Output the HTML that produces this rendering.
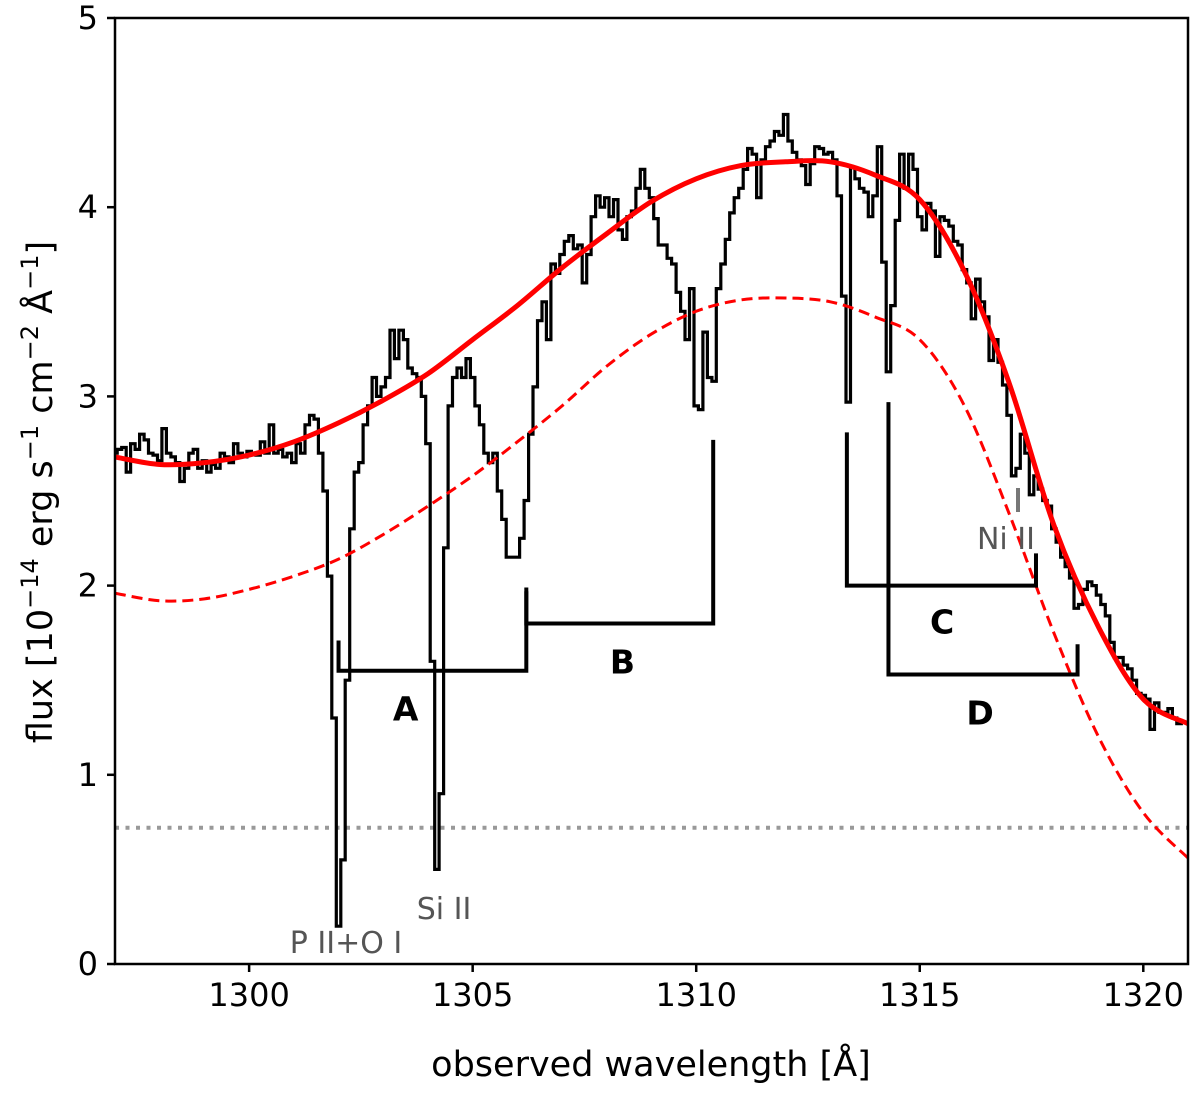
<!DOCTYPE html>
<html><head><meta charset="utf-8">
<style>
html,body{margin:0;padding:0;background:#fff;}
svg{display:block;font-family:"DejaVu Sans","Liberation Sans",sans-serif;}
</style></head>
<body>
<svg id="chart" width="1200" height="1093" viewBox="0 0 1200 1093" xmlns="http://www.w3.org/2000/svg">
  <rect x="0" y="0" width="1200" height="1093" fill="#fff"/>
  <defs><clipPath id="pc"><rect x="115" y="18" width="1073" height="946"/></clipPath></defs>
  <g id="plot" clip-path="url(#pc)"></g>
  <g id="annot"></g>
  <rect x="115" y="18" width="1073" height="946" fill="none" stroke="#000" stroke-width="2.5"/>
  <g id="axes"></g>
  <text x="651" y="1076" text-anchor="middle" font-size="35">observed wavelength [Å]</text>
  <text transform="translate(52,492) rotate(-90)" text-anchor="middle" font-size="35">flux [10<tspan font-size="24" dy="-14">−14</tspan><tspan dy="14"> erg s</tspan><tspan font-size="24" dy="-14">−1</tspan><tspan dy="14"> cm</tspan><tspan font-size="24" dy="-14">−2</tspan><tspan dy="14"> Å</tspan><tspan font-size="24" dy="-14">−1</tspan><tspan dy="14">]</tspan></text>
</svg>
<script>
const wlStart = 1297.0, wlStep = 0.1;
const flux = [
2.7,2.72,2.73,2.6,2.75,2.72,2.8,2.77,2.7,2.69,
2.66,2.83,2.7,2.68,2.65,2.55,2.62,2.7,2.72,2.62,
2.66,2.6,2.64,2.62,2.7,2.68,2.65,2.75,2.7,2.68,
2.71,2.7,2.69,2.76,2.7,2.85,2.7,2.72,2.68,2.7,
2.65,2.75,2.7,2.85,2.9,2.88,2.7,2.5,2.05,1.3,
0.2,0.55,1.5,2.3,2.6,2.65,2.85,2.95,3.1,3.0,
3.05,3.1,3.35,3.2,3.35,3.3,3.15,3.12,3.1,3.0,
2.75,1.6,0.5,0.9,2.2,2.95,3.1,3.15,3.1,3.2,
3.1,2.95,2.85,2.7,2.65,2.7,2.5,2.35,2.15,2.15,
2.15,2.25,2.45,2.8,3.05,3.4,3.5,3.3,3.7,3.65,
3.75,3.82,3.85,3.78,3.8,3.6,3.75,3.95,4.06,4.0,
4.05,3.95,4.04,3.88,3.83,3.95,3.98,4.1,4.2,4.1,
4.05,3.94,3.8,3.8,3.73,3.7,3.55,3.45,3.3,3.57,
2.95,2.93,3.34,3.1,3.08,3.57,3.7,3.83,3.97,4.05,
4.1,4.2,4.31,4.28,4.05,4.25,4.32,4.35,4.4,4.38,
4.49,4.35,4.29,4.25,4.22,4.12,4.23,4.32,4.31,4.28,
4.29,4.25,4.06,3.53,2.97,4.21,4.15,4.1,4.08,3.95,
4.06,4.32,3.71,3.13,3.48,3.93,4.28,4.1,4.28,4.2,
3.95,3.88,4.02,3.98,3.74,3.95,3.93,3.9,3.82,3.8,
3.67,3.6,3.41,3.62,3.5,3.42,3.19,3.3,3.18,3.06,
2.9,2.58,2.62,2.8,2.7,2.48,2.58,2.51,2.45,2.42,
2.3,2.23,2.15,2.1,2.04,1.88,1.9,1.98,2.02,2.0,
1.95,1.9,1.84,1.7,1.62,1.62,1.58,1.56,1.5,1.43,
1.42,1.4,1.24,1.38,1.33,1.33,1.35,1.3,1.27,1.28];
const modelWl = [1297,1298,1299,1300,1301,1302,1303,1304,1305,1306,1307,1308,1309,1310,1311,1312,1313,1314,1315,1316,1317,1318,1319,1320,1321];
const modelTotal = [2.68,2.64,2.65,2.69,2.76,2.86,2.98,3.12,3.3,3.48,3.68,3.86,4.03,4.15,4.22,4.24,4.24,4.17,4.04,3.66,3.07,2.32,1.78,1.4,1.27];
const modelComp = [1.96,1.92,1.93,1.98,2.05,2.14,2.27,2.42,2.58,2.76,2.95,3.16,3.33,3.45,3.51,3.52,3.5,3.42,3.3,2.95,2.38,1.75,1.2,0.8,0.56];
const noiseLevel = 0.72;
const xTicks = [1300,1305,1310,1315,1320];
const yTicks = [0,1,2,3,4,5];
const brackets = [
  {label:'A', w1:1302.0, w2:1306.2, y:1.55, t1:1.71, t2:1.99, lw:1303.5, ly:1.35},
  {label:'B', w1:1306.2, w2:1310.38, y:1.8, t1:1.97, t2:2.77, lw:1308.35, ly:1.6},
  {label:'C', w1:1313.37, w2:1317.6, y:2.0, t1:2.81, t2:2.17, lw:1315.5, ly:1.81},
  {label:'D', w1:1314.3, w2:1318.53, y:1.53, t1:2.97, t2:1.69, lw:1316.35, ly:1.33}
];
const X0=1297, X1=1321, Y0=0, Y1=5;
function sx(w){return 115+(w-X0)/(X1-X0)*1073;}
function sy(f){return 964-(f-Y0)/(Y1-Y0)*946;}
const NS='http://www.w3.org/2000/svg';
function mk(tag,attrs,parent){const e=document.createElementNS(NS,tag);for(const k in attrs)e.setAttribute(k,attrs[k]);parent.appendChild(e);return e;}
const plot=document.getElementById('plot'), annot=document.getElementById('annot'), axes=document.getElementById('axes');

let nl=mk('line',{x1:sx(X0),x2:sx(X1),y1:sy(noiseLevel),y2:sy(noiseLevel),stroke:'#999','stroke-width':4,'stroke-dasharray':'4,6.5'},plot);



let d='';
flux.forEach((f,i)=>{const w=wlStart+i*wlStep;const a=sx(w-wlStep/2),b=sx(w+wlStep/2),y=sy(f);d+=(i===0?'M':'L')+a.toFixed(1)+','+y.toFixed(1)+'L'+b.toFixed(1)+','+y.toFixed(1);});
let sp=mk('path',{d:d,fill:'none',stroke:'#000','stroke-width':3.2,'stroke-linejoin':'miter'},plot);



function smooth(xs,ys){const p=xs.map((x,i)=>[sx(x),sy(ys[i])]);let s='M'+p[0][0]+','+p[0][1];for(let i=0;i<p.length-1;i++){const p0=p[Math.max(0,i-1)],p1=p[i],p2=p[i+1],p3=p[Math.min(p.length-1,i+2)];const c1=[p1[0]+(p2[0]-p0[0])/6,p1[1]+(p2[1]-p0[1])/6],c2=[p2[0]-(p3[0]-p1[0])/6,p2[1]-(p3[1]-p1[1])/6];s+='C'+c1.join(',')+' '+c2.join(',')+' '+p2.join(',');}return s;}
let dc=mk('path',{d:smooth(modelWl,modelComp),fill:'none',stroke:'#f00','stroke-width':3,'stroke-dasharray':'11,6'},plot);


let tc=mk('path',{d:smooth(modelWl,modelTotal),fill:'none',stroke:'#f00','stroke-width':5},plot);



brackets.forEach(b=>{
  let p=mk('path',{d:`M${sx(b.w1)},${sy(b.t1)}L${sx(b.w1)},${sy(b.y)}L${sx(b.w2)},${sy(b.y)}L${sx(b.w2)},${sy(b.t2)}`,fill:'none',stroke:'#000','stroke-width':4},annot);
  
  
  let t=mk('text',{x:sx(b.lw),y:sy(b.ly)+12,'text-anchor':'middle','font-size':33,'font-weight':'bold'},annot);
  t.textContent=b.label;
  
  
});
let ni=mk('line',{x1:1018,x2:1018,y1:488,y2:512,stroke:'#777','stroke-width':4},annot);


[['Ni II',1006,549,'ni-ii-label'],['Si II',444,919,'si-ii-label'],['P II+O I',346,953,'p-ii-o-i-label']].forEach(a=>{
  let t=mk('text',{x:a[1],y:a[2],'text-anchor':'middle','font-size':30,fill:'#555'},annot);
  t.textContent=a[0];
  
  
});

xTicks.forEach(v=>{
  let l=mk('line',{x1:sx(v),x2:sx(v),y1:964,y2:972,stroke:'#000','stroke-width':2.5},axes);
  
  
  let t=mk('text',{x:sx(v),y:1006,'text-anchor':'middle','font-size':32},axes);
  t.textContent=v;
  
  
});
yTicks.forEach(v=>{
  let l=mk('line',{x1:107,x2:115,y1:sy(v),y2:sy(v),stroke:'#000','stroke-width':2.5},axes);
  
  
  let t=mk('text',{x:98,y:sy(v)+11,'text-anchor':'end','font-size':32},axes);
  t.textContent=v;
  
  
});
</script>
</body></html>
